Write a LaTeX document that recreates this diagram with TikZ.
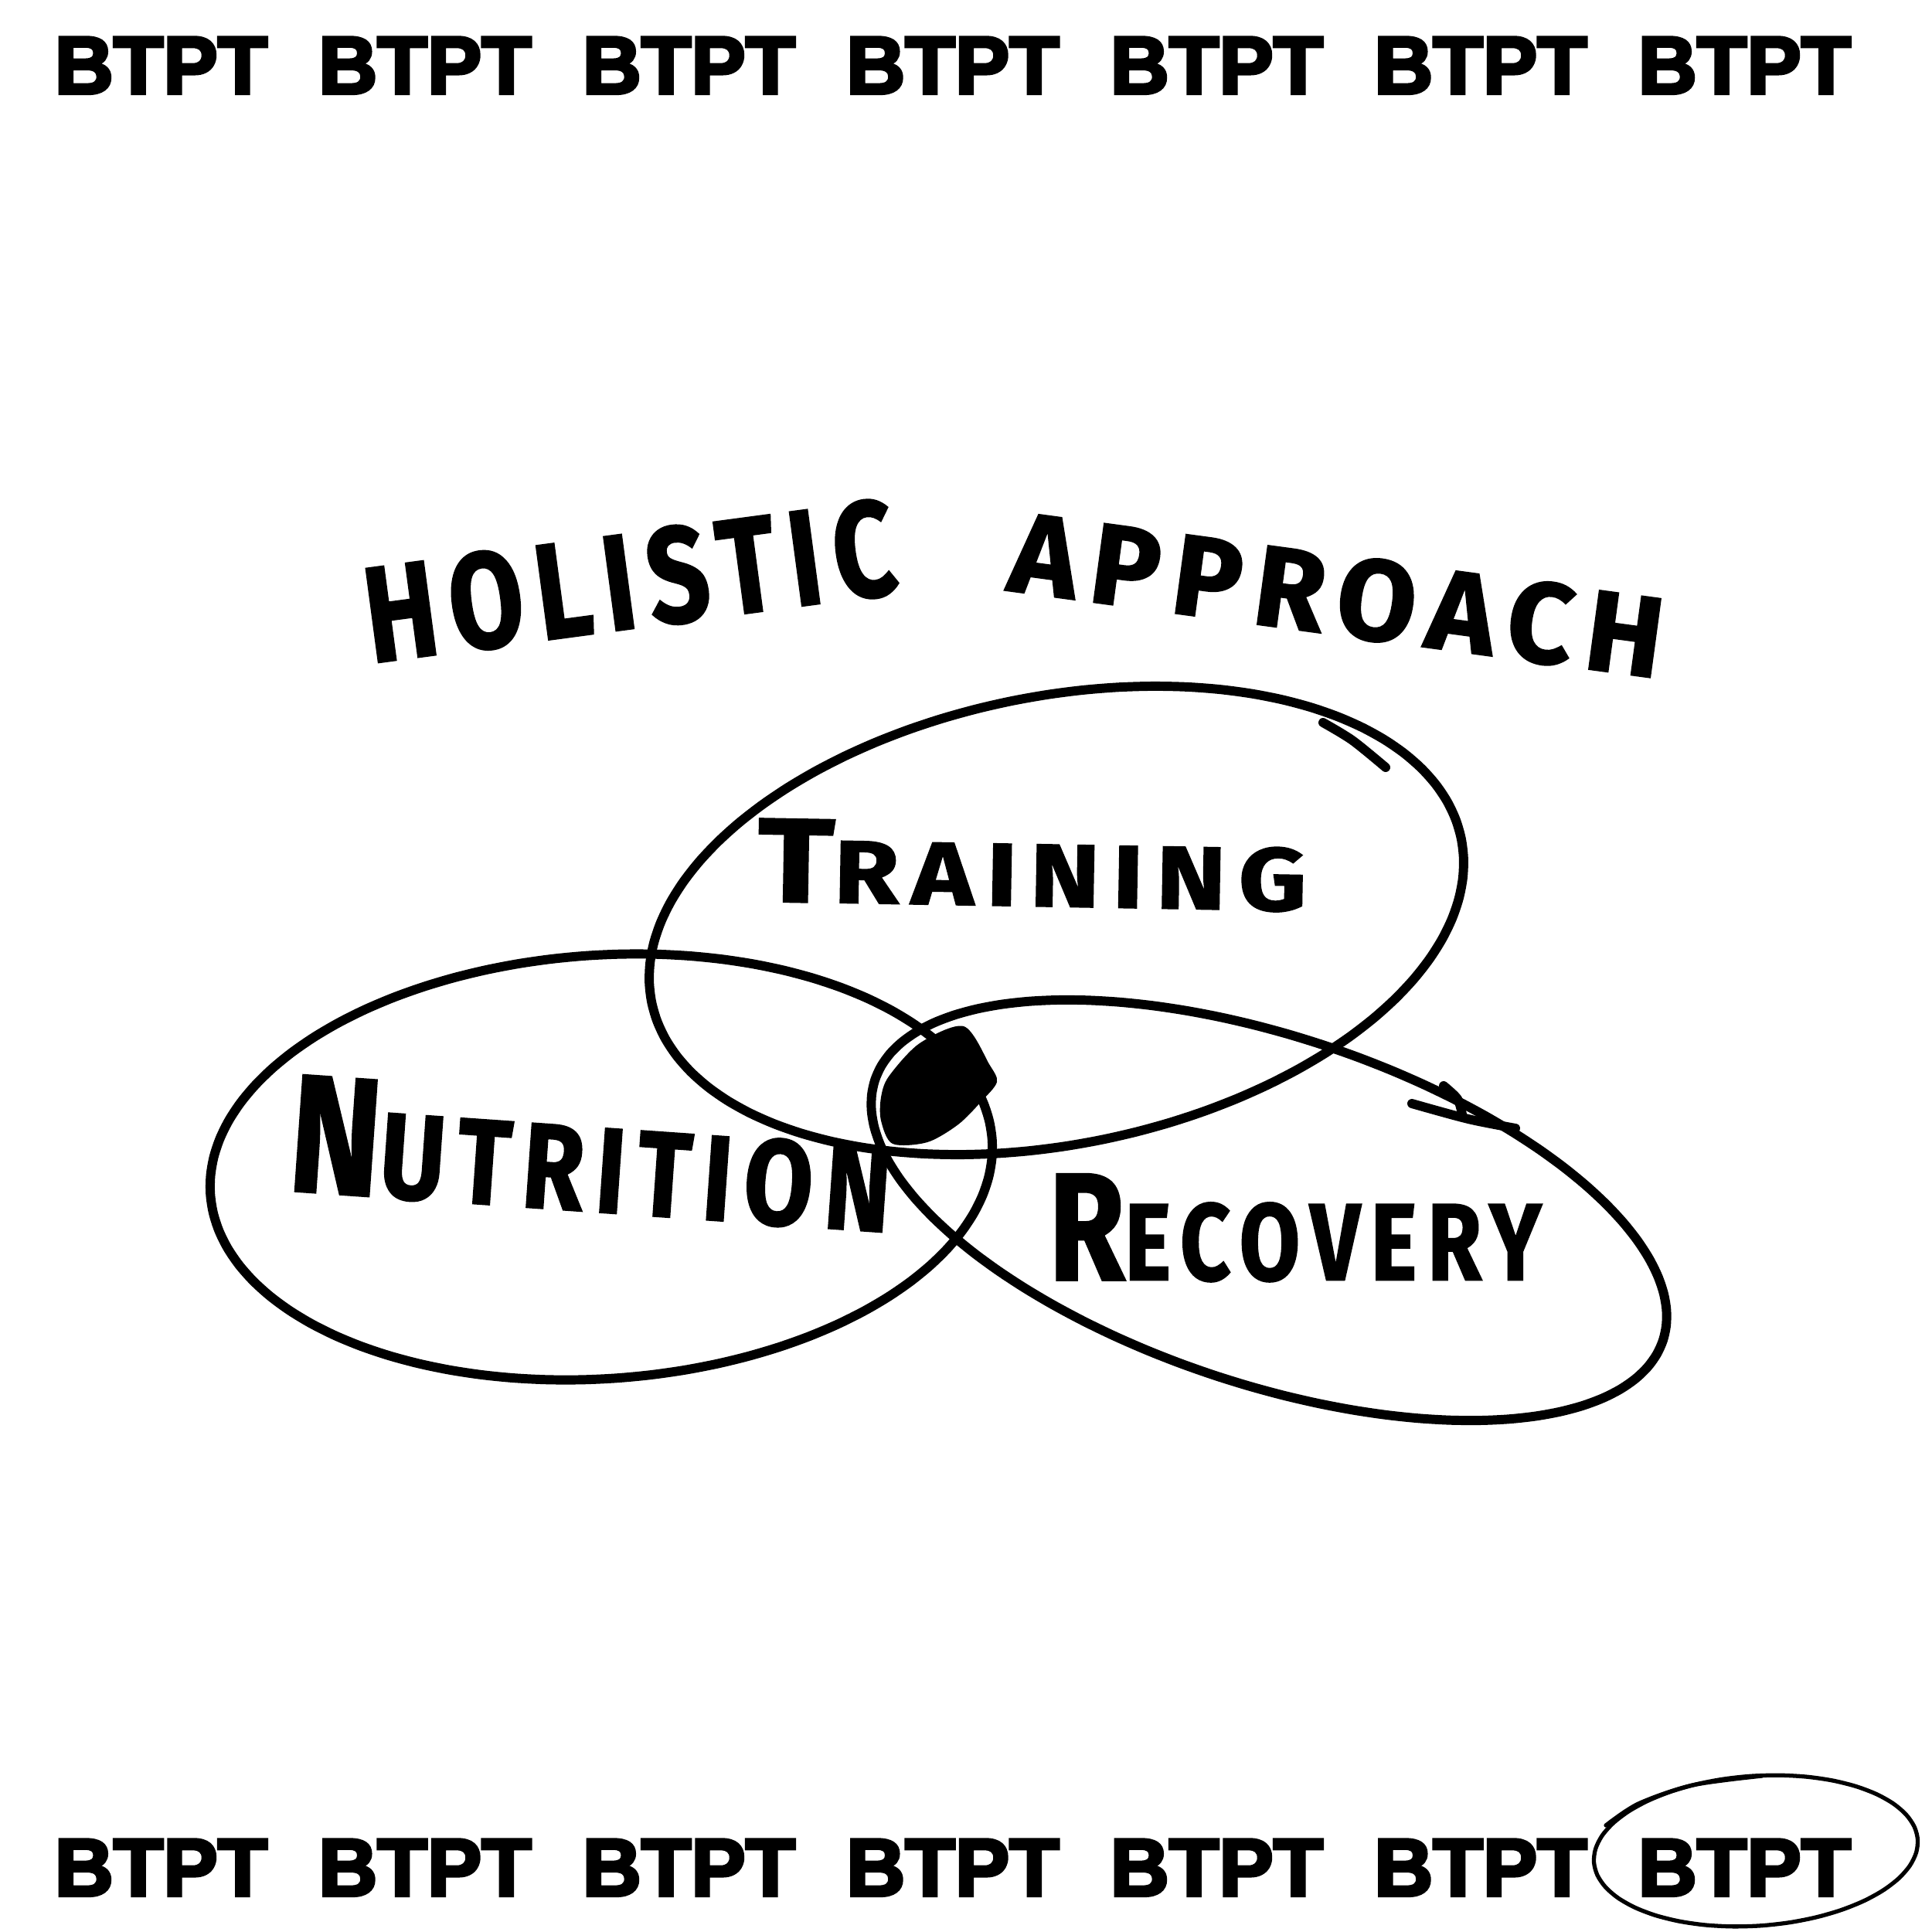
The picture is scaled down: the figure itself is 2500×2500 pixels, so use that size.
\documentclass[tikz,border=0pt]{standalone}
\usepackage{fontspec}
\newfontfamily\bannerfont[BoldFeatures={FakeBold=4}]{Liberation Sans}
\newfontfamily\handfont[LetterSpace=12,BoldFeatures={FakeBold=1.5}]{Fira Sans}

\begin{document}
\begin{tikzpicture}[x=0.01cm,y=-0.01cm,banner/.style={anchor=base west,inner sep=0pt,font=\bannerfont\bfseries\fontsize{30}{30}\selectfont},hand/.style={inner sep=0pt,font=\handfont\bfseries},pen/.style={line width=3.4pt,line cap=round,line join=round},thinpen/.style={line width=1.5pt,line cap=round,line join=round}]
\useasboundingbox[fill=white] (0,0) rectangle (2500,2500);
\foreach \i in {0,...,6} {\node[banner] (top\i) at (70+341.5*\i,121) {BTPT}; \node[banner] (bot\i) at (70+341.5*\i,2453) {BTPT};}
\draw[thinpen] plot[smooth cycle,domain=0:350,samples=36,variable=\t] ({2272+210*cos(\t)*cos(-4)-97*sin(\t)*sin(-4)},{2395+210*cos(\t)*sin(-4)+97*sin(\t)*cos(-4)});
\draw[thinpen] plot[smooth] coordinates {(2078,2362) (2120,2334) (2190,2310) (2280,2298)};
\node[hand,rotate=7.6] (holistic) at (815,752) {\resizebox{6.9cm}{1.25cm}{HOLISTIC}};
\node[hand,rotate=-7.7] (approach) at (1730,770) {\resizebox{8.5cm}{1.05cm}{APPROACH}};
\draw[pen] plot[smooth cycle,domain=0:355,samples=72,variable=\t] ({1367+534.4*cos(\t)*cos(-11.4)-289.8*sin(\t)*sin(-11.4)},{1191+534.4*cos(\t)*sin(-11.4)+289.8*sin(\t)*cos(-11.4)});
\draw[pen] plot[smooth] coordinates {(1712,935) (1750,958) (1793,993)};
\draw[pen] plot[smooth cycle,domain=0:355,samples=72,variable=\t] ({778+507*cos(\t)*cos(-4)-274*sin(\t)*sin(-4)},{1510+507*cos(\t)*sin(-4)+274*sin(\t)*cos(-4)});
\draw[pen] plot[smooth cycle,domain=0:355,samples=72,variable=\t] ({1642+537*cos(\t)*cos(18.3)-225*sin(\t)*sin(18.3)},{1566+537*cos(\t)*sin(18.3)+225*sin(\t)*cos(18.3)});
\draw[pen] plot[smooth] coordinates {(1868,1405) (1886,1422) (1892,1442)};
\draw[pen] plot[smooth] coordinates {(1827,1428) (1900,1448) (1961,1460)};
\fill plot[smooth cycle] coordinates {(1150,1393) (1190,1350) (1247,1328) (1280,1377) (1290,1400) (1270,1425) (1240,1455) (1200,1478) (1155,1480) (1140,1450) (1140,1420)};
\node[hand,rotate=-1] (training) at (1336,1120) {\resizebox{7.1cm}{1.07cm}{\scalebox{1.34}{T}RAINING}};
\node[hand,rotate=-4] (nutrition) at (765,1494) {\resizebox{7.8cm}{1.5cm}{\scalebox{1.38}{N}UTRITION}};
\node[hand] (recovery) at (1676,1589) {\resizebox{6.37cm}{1.37cm}{\scalebox{1.4}{R}ECOVERY}};
\end{tikzpicture}
\end{document}
